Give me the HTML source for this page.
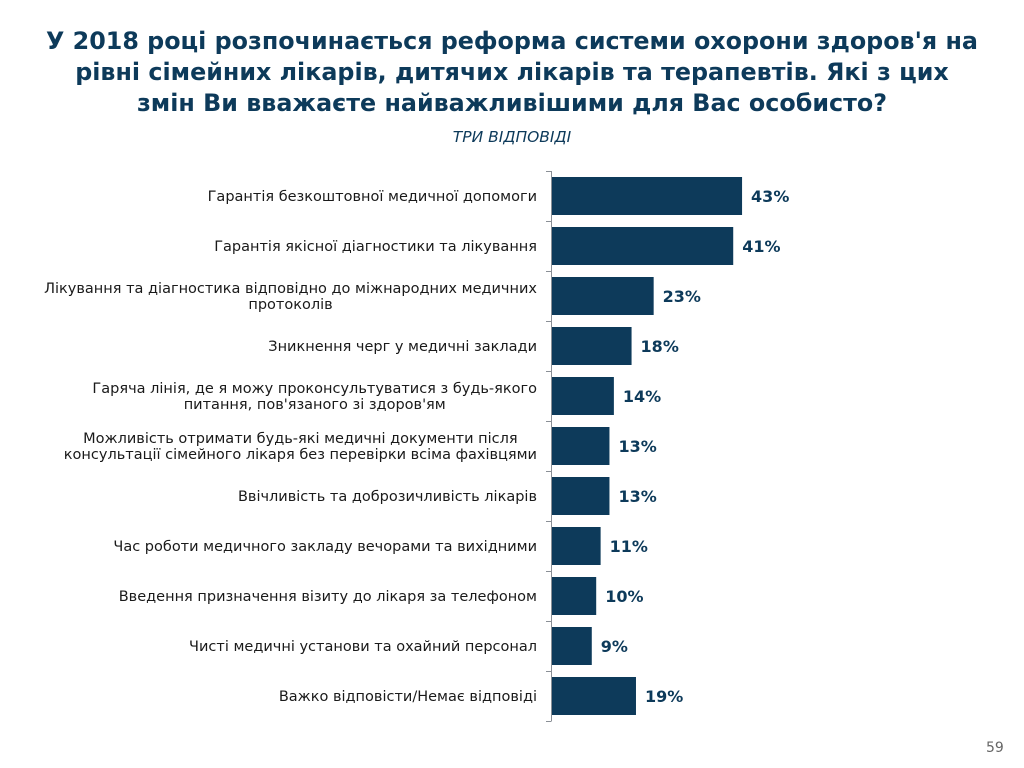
<!DOCTYPE html>
<html><head><meta charset="utf-8">
<style>
body{margin:0;width:1024px;height:768px;background:#fff;font-family:"DejaVu Sans","Liberation Sans",sans-serif;overflow:hidden;position:relative}
#title{position:absolute;left:0;top:26px;width:1024px;text-align:center;font-weight:bold;font-size:23.8px;line-height:31px;color:#0d3a5a}
#sub{position:absolute;left:0;top:128px;width:1024px;text-align:center;font-style:italic;font-size:15.5px;color:#0d3a5a}
#pg{position:absolute;left:986px;top:740px;font-size:14px;color:#666}
</style></head><body>
<div id="title">У 2018 році розпочинається реформа системи охорони здоров'я на<br>рівні сімейних лікарів, дитячих лікарів та терапевтів. Які з цих<br>змін Ви вважаєте найважливішими для Вас особисто?</div>
<div id="sub">ТРИ ВІДПОВІДІ</div>
<svg id="chart" width="1024" height="768" style="position:absolute;left:0;top:0"></svg>
<div id="pg">59</div>
<script>
const categories=[
["Гарантія безкоштовної медичної допомоги"],
["Гарантія якісної діагностики та лікування"],
["Лікування та діагностика відповідно до міжнародних медичних","протоколів"],
["Зникнення черг у медичні заклади"],
["Гаряча лінія, де я можу проконсультуватися з будь-якого","питання, пов'язаного зі здоров'ям"],
["Можливість отримати будь-які медичні документи після","консультації сімейного лікаря без перевірки всіма фахівцями"],
["Ввічливість та доброзичливість лікарів"],
["Час роботи медичного закладу вечорами та вихідними"],
["Введення призначення візиту до лікаря за телефоном"],
["Чисті медичні установи та охайний персонал"],
["Важко відповісти/Немає відповіді"]];
const values=[43,41,23,18,14,13,13,11,10,9,19];
const valueLabels=["43%","41%","23%","18%","14%","13%","13%","11%","10%","9%","19%"];
const svg=document.getElementById('chart');const NS="http://www.w3.org/2000/svg";
const x0=552,pxPer=4.42,top0=171,band=50;
const xs=v=>x0+v*pxPer, ys=i=>top0+i*band;
function mk(t,a){const e=document.createElementNS(NS,t);for(const k in a)e.setAttribute(k,a[k]);svg.appendChild(e);return e;}
const ax=mk('line',{x1:551.5,x2:551.5,y1:top0,y2:ys(categories.length),stroke:'#8a8f96','stroke-width':1});


for(let i=0;i<=categories.length;i++){const t=mk('line',{x1:546,x2:551.5,y1:ys(i)+0.5,y2:ys(i)+0.5,stroke:'#8a8f96','stroke-width':1});

}
values.forEach((v,i)=>{
const r=mk('rect',{x:x0,y:ys(i)+6,width:xs(v)-x0,height:38,fill:'#0d3a5a'});


const t=mk('text',{x:xs(v)+9,y:ys(i)+31,'font-size':16,'font-weight':'bold',fill:'#0d3a5a'});t.textContent=valueLabels[i];


const lines=categories[i];const cy=ys(i)+25;
const els=[];
lines.forEach((ln,j)=>{const l=mk('text',{x:537,y:cy+(j-(lines.length-1)/2)*16+5,'font-size':14.5,'text-anchor':'end',fill:'#1a1a1a'});l.textContent=ln;


els.push(l);});
if(els.length>1){
 const maxW=Math.max(...els.map(e=>e.getComputedTextLength()));
 const c=537-maxW/2;
 els.forEach(e=>{e.setAttribute('text-anchor','middle');e.setAttribute('x',c);});
}
});
</script>
</body></html>
